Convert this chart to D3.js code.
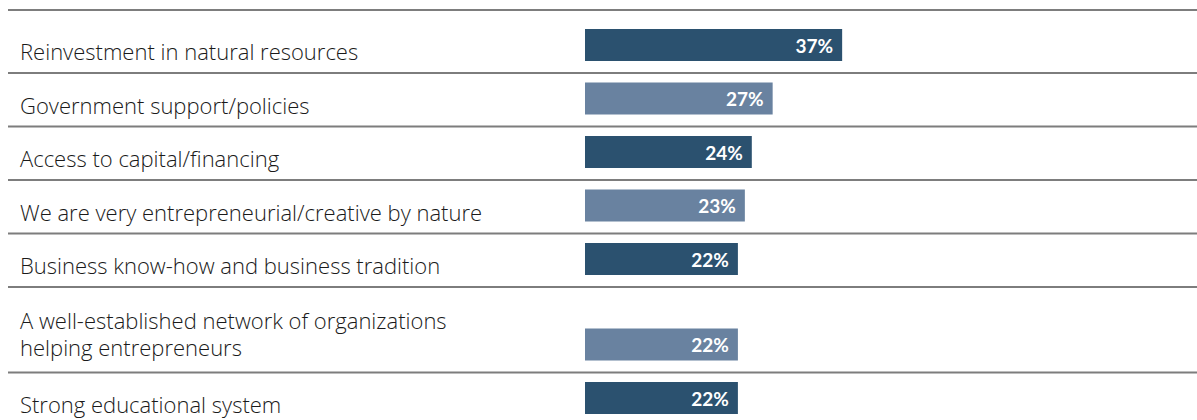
<html>
<head>
  <meta charset="utf-8" />
  <script src="https://d3js.org/d3.v7.min.js"></script>
</head>
<body style="margin: 0; background: #fff">
<script>

// data
var categories = [
  ["Reinvestment in natural resources"],
  ["Government support/policies"],
  ["Access to capital/financing"],
  ["We are very entrepreneurial/creative by nature"],
  ["Business know-how and business tradition"],
  ["A well-established network of organizations", "helping entrepreneurs"],
  ["Strong educational system"]
]
var values = [37, 27, 24, 23, 22, 22, 22]
var barColors = ["#2b516f", "#6982a0"]

var width = 1197, height = 420

var svg = d3.select("body").append("svg")
            .attr("width", width)
            .attr("height", height)
            .style("display", "block")

var x = d3.scaleLinear().domain([0, 100]).range([585, 585 + 695])

// row layout: separators on top of each row, bars sit at the bottom
var rows = []
var rowTop = 10
categories.forEach(function(lines, i) {
  let h = 53.5 + 32 * (lines.length - 1) + (i == 0 ? 9.5 : 0)
  rows.push({ top: rowTop, bottom: rowTop + h, lines: lines, value: values[i], i: i })
  rowTop += h
})

// separator lines
svg.selectAll("line.sep")
  .data(rows)
  .enter().append("line")
  .attr("class", "sep")
  .attr("x1", 8)
  .attr("x2", width)
  .attr("y1", function(d) { return d.top })
  .attr("y2", function(d) { return d.top })
  .attr("stroke", "#7d7d7d")
  .attr("stroke-width", 2)

var barH = 32

svg.selectAll("rect.bar")
  .data(rows)
  .enter().append("rect")
  .attr("class", "bar")
  .attr("x", x(0))
  .attr("y", function(d) { return d.bottom - 12 - barH })
  .attr("width", function(d) { return x(d.value) - x(0) })
  .attr("height", barH)
  .attr("fill", function(d) { return barColors[d.i % 2] })

svg.selectAll("text.val")
  .data(rows)
  .enter().append("text")
  .attr("class", "val")
  .attr("x", function(d) { return x(d.value) - 9 })
  .attr("y", function(d) { return d.bottom - 12 - barH / 2 + 7.5 })
  .attr("text-anchor", "end")
  .attr("fill", "#fff")
  .style("font-family", "Lato, 'Open Sans', sans-serif")
  .style("font-weight", "bold")
  .style("font-size", "19px")
  .text(function(d) { return d.value + "%" })

var labels = svg.selectAll("text.lab")
  .data(rows)
  .enter().append("text")
  .attr("class", "lab")
  .attr("fill", "#1a1a1a")
  .style("font-family", "'Open Sans', sans-serif")
  .style("font-weight", 300)
  .style("font-size", "22px")

labels.each(function(d) {
  let n = d.lines.length
  let last = d.bottom - 12 - (n > 1 ? 5 : 1)
  d3.select(this).selectAll("tspan")
    .data(d.lines)
    .enter().append("tspan")
    .attr("x", 20)
    .attr("y", function(t, j) { return last - (n - 1 - j) * 27 })
    .text(function(t) { return t })
})

</script>
</body>
</html>
